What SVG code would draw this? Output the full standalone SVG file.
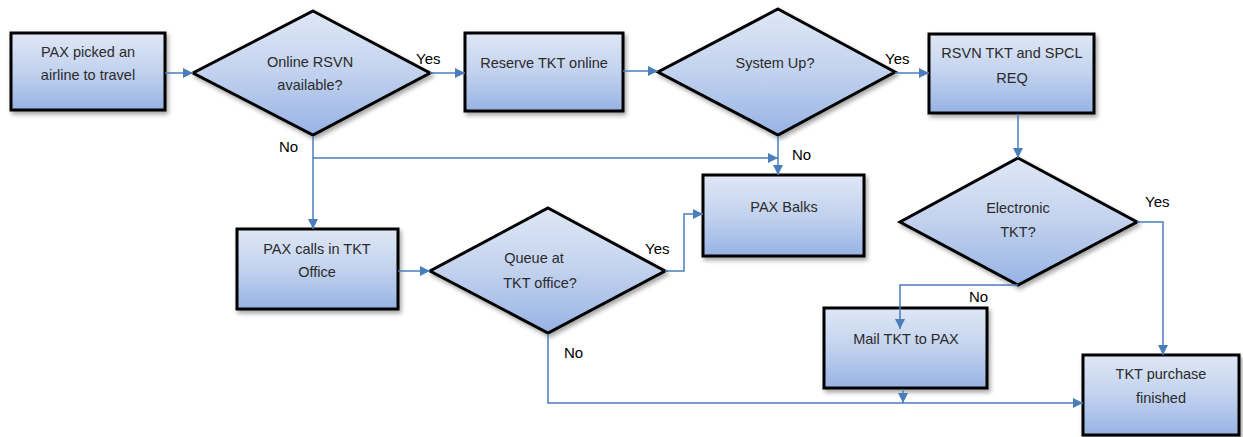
<svg xmlns="http://www.w3.org/2000/svg" width="1243" height="437" viewBox="0 0 1243 437">
<defs>
<linearGradient id="g" x1="0" y1="0" x2="0" y2="1">
<stop offset="0" stop-color="#dfe7f5"/>
<stop offset="0.5" stop-color="#c2d2ee"/>
<stop offset="1" stop-color="#97b3e4"/>
</linearGradient>
<filter id="sh" x="-10%" y="-10%" width="125%" height="130%">
<feDropShadow dx="2" dy="3" stdDeviation="2" flood-color="#000" flood-opacity="0.35"/>
</filter>
<marker id="ah" viewBox="0 0 10 10" refX="10" refY="5" markerWidth="10" markerHeight="10" markerUnits="userSpaceOnUse" orient="auto">
<path d="M0,0 L10,5 L0,10 z" fill="#4a7ebb"/>
</marker>
</defs>
<style>
.n{fill:url(#g);stroke:#000;stroke-width:3;filter:url(#sh)}
.t{font-family:"Liberation Sans",Arial,sans-serif;font-size:14.5px;fill:#2b2b2b;text-anchor:middle}
.l{font-family:"Liberation Sans",Arial,sans-serif;font-size:15px;fill:#000}
.c{fill:none;stroke:#4a7ebb;stroke-width:1.5}
</style>
<rect width="1243" height="437" fill="#fff"/>
<g id="n1"><rect class="n" x="11" y="33" width="154" height="77"/>
<text class="t" x="88" y="57">PAX picked an</text><text class="t" x="88" y="80">airline to travel</text></g>
<g id="n2"><polygon class="n" points="313,11 430,73 313,135 193,73"/>
<text class="t" x="310" y="67">Online RSVN</text><text class="t" x="310" y="90">available?</text></g>
<g id="n3"><rect class="n" x="465" y="33" width="158" height="78"/>
<text class="t" x="544" y="68">Reserve TKT online</text></g>
<g id="n4"><polygon class="n" points="778,9 895,72 778,135 658,72"/>
<text class="t" x="775" y="68">System Up?</text></g>
<g id="n5"><rect class="n" x="929" y="34" width="165" height="79"/>
<text class="t" x="1012" y="58">RSVN TKT and SPCL</text><text class="t" x="1012" y="83">REQ</text></g>
<g id="n6"><rect class="n" x="237" y="229" width="161" height="80"/>
<text class="t" x="317" y="254">PAX calls in TKT</text><text class="t" x="317" y="277">Office</text></g>
<g id="n7"><polygon class="n" points="548,208 665,271 548,333 430,271"/>
<text class="t" x="534" y="263">Queue at</text><text class="t" x="540" y="288">TKT office?</text></g>
<g id="n8"><rect class="n" x="703" y="175" width="161" height="81"/>
<text class="t" x="784" y="212">PAX Balks</text></g>
<g id="n9"><polygon class="n" points="1018,158 1137,222 1018,285 900,222"/>
<text class="t" x="1018" y="213">Electronic</text><text class="t" x="1018" y="237">TKT?</text></g>
<g id="n10"><rect class="n" x="824" y="308" width="163" height="80"/>
<text class="t" x="906" y="344">Mail TKT to PAX</text></g>
<g id="n11"><rect class="n" x="1083" y="355" width="156" height="80"/>
<text class="t" x="1161" y="379">TKT purchase</text><text class="t" x="1161" y="403">finished</text></g>
<g id="connectors">
<path class="c" d="M165,73 H193" marker-end="url(#ah)"/>
<path class="c" d="M430,73 H465" marker-end="url(#ah)"/>
<path class="c" d="M623,71 H658" marker-end="url(#ah)"/>
<path class="c" d="M895,73 H929" marker-end="url(#ah)"/>
<path class="c" d="M1018,114 V158" marker-end="url(#ah)"/>
<path class="c" d="M313,136 V229" marker-end="url(#ah)"/>
<path class="c" d="M313,158 H778" marker-end="url(#ah)"/>
<path class="c" d="M778,136 V175" marker-end="url(#ah)"/>
<path class="c" d="M398,271 H430" marker-end="url(#ah)"/>
<path class="c" d="M665,271 H684 V214 H703" marker-end="url(#ah)"/>
<path class="c" d="M548,334 V403 H1083" marker-end="url(#ah)"/>
<path class="c" d="M1137,222 H1163 V355" marker-end="url(#ah)"/>
<path class="c" d="M1018,285 H900 V329" marker-end="url(#ah)"/>
<path class="c" d="M903,389 V403" marker-end="url(#ah)"/>
<text class="l" x="416" y="64">Yes</text>
<text class="l" x="279" y="152">No</text>
<text class="l" x="885" y="64">Yes</text>
<text class="l" x="792" y="160">No</text>
<text class="l" x="645" y="254">Yes</text>
<text class="l" x="564" y="358">No</text>
<text class="l" x="1145" y="207">Yes</text>
<text class="l" x="969" y="302">No</text>
</g>
</svg>
